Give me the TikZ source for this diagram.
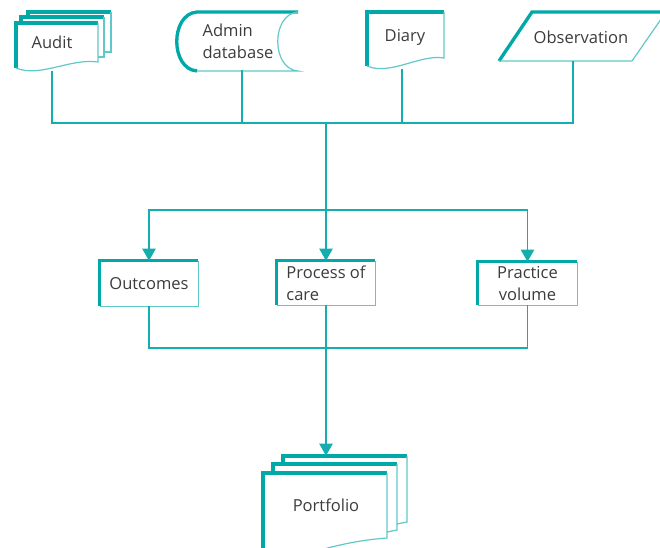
\documentclass[tikz,border=0pt]{standalone}
\usepackage{fontspec}
\setmainfont{Open Sans}
\usetikzlibrary{arrows.meta}
\definecolor{tealdark}{RGB}{0,168,168}
\definecolor{teallight}{RGB}{95,200,200}
\definecolor{tealline}{RGB}{20,174,174}
\definecolor{textgrey}{RGB}{60,60,60}

\begin{document}
\begin{tikzpicture}[x=0.75pt, y=-0.75pt,
	thickedge/.style={draw=tealdark, line width=2.5pt},
	thinedge/.style={draw=teallight, line width=0.9pt},
	link/.style={draw=tealline, line width=0.9pt},
	flow/.style={link, -{Triangle[width=10pt,length=9pt]}},
	carebox/.style={minimum width=73.5pt, minimum height=33pt, align=center},
	every node/.style={font=\fontsize{12.4}{16.5}\selectfont, text=textgrey, inner sep=0}
	]
	\useasboundingbox (0,0) rectangle (660,548);

	% sources
	\node (audit) at (52,42) [minimum height=43.5pt] {Audit};
	\node (admin) at (238,41) [minimum height=43.5pt, align=left] {Admin\\database};
	\node (diary) at (405,37) [minimum height=48pt] {Diary};
	\node (obs) at (581,37) [minimum height=36pt] {Observation};

	% audit: stack of pages
	\draw [thickedge] (28,17) -- (28,12) -- (111,12);
	\draw [thinedge] (111,12) -- (111,52) -- (104,52);
	\draw [thickedge] (21,23) -- (21,17) -- (104,17);
	\draw [thinedge] (104,17) -- (104,57) -- (98,57);
	\draw [thickedge] (16,68) -- (16,23) -- (98,23);
	\draw [thinedge] (98,23) -- (98,62) .. controls (70,58) and (40,78) .. (16,68);

	% admin database
	\draw [thickedge] (197,71) .. controls (170,69) and (170,14) .. (197,12) -- (298,12);
	\draw [thinedge] (197,71) -- (298,71) .. controls (271,69) and (271,14) .. (298,12);

	% diary
	\draw [thickedge] (367,66) -- (367,12) -- (444,12);
	\draw [thinedge] (444,12) -- (444,58) .. controls (420,54) and (390,76) .. (367,66);

	% observation
	\draw [thickedge] (499,61) -- (532,12) -- (666,12);
	\draw [thinedge] (666,12) -- (632,61) -- (499,61);

	% measures
	\node (outcomes) at (149,283.5) [carebox, minimum height=33.75pt] {Outcomes};
	\node (process) at (326,283) [carebox, align=left] {Process of\\care};
	\node (practice) at (527.5,283.5) [carebox, minimum width=74.25pt, minimum height=32.25pt] {Practice\\volume};

	\foreach \n in {outcomes,process,practice} {
		\draw [thickedge] (\n.south west) -- (\n.north west) -- (\n.north east);
		\draw [thinedge] (\n.north east) -- (\n.south east) -- (\n.south west);
	}

	% portfolio
	\node (portfolio) at (326,505) [minimum height=73.5pt] {Portfolio};
	\draw [thickedge] (283,464) -- (283,456) -- (407,456);
	\draw [thinedge] (407,456) -- (407,522) -- (397,524);
	\draw [thickedge] (273,473) -- (273,464) -- (397,464);
	\draw [thinedge] (397,464) -- (397,530) -- (387,532);
	\draw [thickedge] (263,560) -- (263,473) -- (387,473);
	\draw [thinedge] (387,473) -- (387,538) .. controls (360,540) and (335,545) .. (300,556);

	% connectors
	\coordinate (gather) at (326,123);
	\coordinate (split) at (326,210);
	\coordinate (merge) at (326,348);
	\draw [link] (audit.south) |- (gather);
	\draw [link] ([xshift=3pt]admin.south) |- (gather);
	\draw [link] ([xshift=-2.25pt]diary.south) |- (gather);
	\draw [link] ([xshift=-6pt]obs.south) |- (gather);
	\draw [link] (gather) -- (split);
	\draw [flow] (split) -| (outcomes.north);
	\draw [flow] (split) -- (process.north);
	\draw [flow] (split) -| (practice.north);
	\draw [link] (outcomes.south) |- (merge);
	\draw [link] (practice.south) |- (merge);
	\draw [flow] (process.south) -- (portfolio.north);
\end{tikzpicture}
\end{document}
